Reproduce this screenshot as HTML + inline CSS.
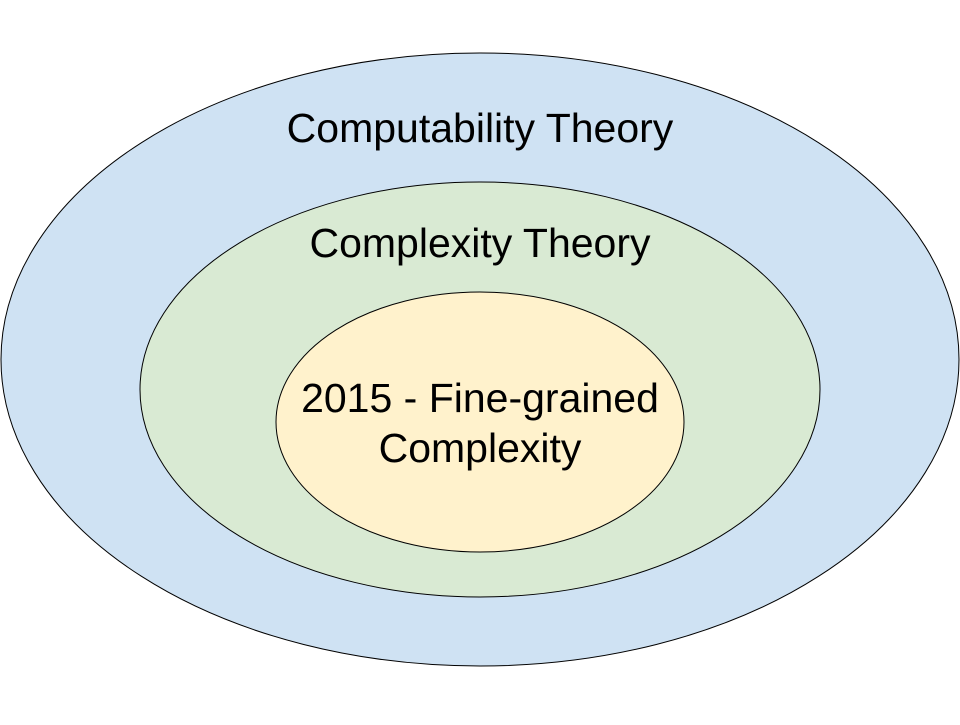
<!DOCTYPE html>
<html><head><meta charset="utf-8"><style>html,body{margin:0;padding:0;background:#fff}</style></head>
<body>
<svg width="960" height="720" xmlns="http://www.w3.org/2000/svg" font-family="Liberation Sans, Arial, sans-serif" font-size="41" text-anchor="middle" fill="#000">
<ellipse cx="480" cy="359.5" rx="479" ry="306.5" fill="#cfe2f3" stroke="#000" stroke-width="1"/>
<ellipse cx="480" cy="389.5" rx="340" ry="207.5" fill="#d9ead3" stroke="#000" stroke-width="1"/>
<ellipse cx="480" cy="422" rx="204" ry="130" fill="#fff2cc" stroke="#000" stroke-width="1"/>
<text x="480" y="142">Computability Theory</text>
<text x="480" y="257">Complexity Theory</text>
<text x="480" y="412">2015 - Fine-grained</text>
<text x="480" y="462">Complexity</text>
</svg>
</body></html>
